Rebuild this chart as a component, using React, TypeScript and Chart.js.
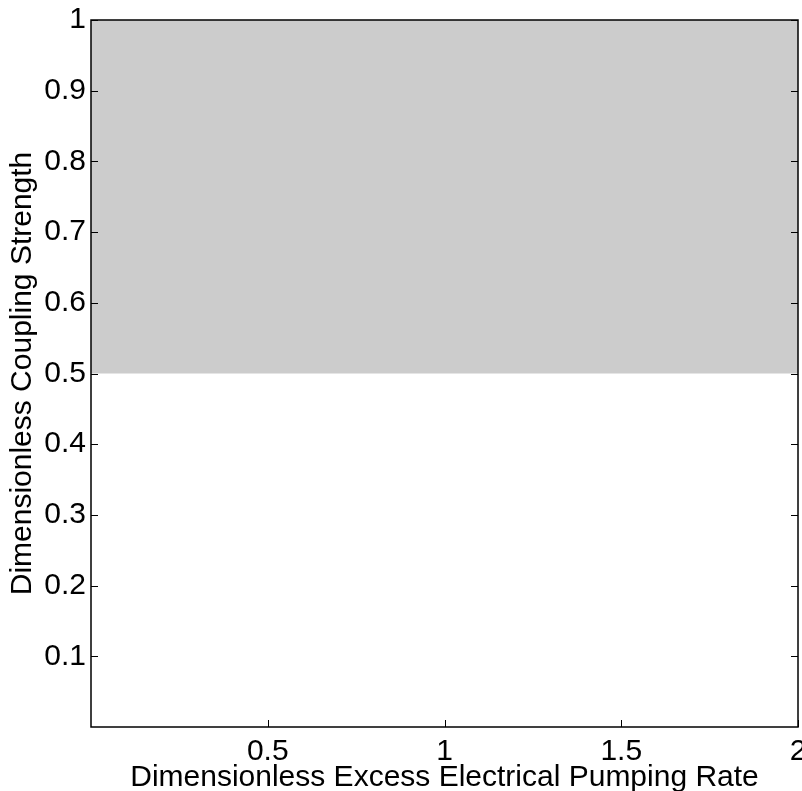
import React, { useEffect, useRef } from "react";
import { Chart, registerables } from "chart.js";

Chart.register(...registerables);

const xRange = [0, 2];
const yRange = [0, 1];
const xTickValues = [0.5, 1, 1.5, 2];
const yTickValues = [0.1, 0.2, 0.3, 0.4, 0.5, 0.6, 0.7, 0.8, 0.9, 1];
const regionX = [0, 2];
const regionLower = [0.5, 0.5];
const xTitle = "Dimensionless Excess Electrical Pumping Rate";
const yTitle = "Dimensionless Coupling Strength";

const FONT = "'Liberation Sans', Arial, Helvetica, sans-serif";
const FS = 30;

const framePlugin = {
  id: "frameTicks",
  afterDatasetsDraw(chart: any) {
    const { ctx, chartArea } = chart;
    const { left, right, top, bottom } = chartArea;
    const xs = chart.scales.x;
    const ys = chart.scales.y;
    const tl = 7;
    ctx.save();
    ctx.strokeStyle = "#000";
    ctx.lineWidth = 1;
    ctx.beginPath();
    for (const v of yTickValues) {
      const y = Math.round(ys.getPixelForValue(v)) + 0.5;
      ctx.moveTo(left, y);
      ctx.lineTo(left + tl, y);
      ctx.moveTo(right, y);
      ctx.lineTo(right - tl, y);
    }
    for (const v of xTickValues) {
      const x = Math.round(xs.getPixelForValue(v)) + 0.5;
      ctx.moveTo(x, bottom);
      ctx.lineTo(x, bottom - tl);
    }
    ctx.stroke();
    ctx.lineWidth = 1.5;
    ctx.strokeRect(left, top, right - left, bottom - top);
    ctx.restore();
  },
};

export default function App() {
  const ref = useRef<HTMLCanvasElement | null>(null);
  useEffect(() => {
    document.body.style.margin = "0";
    const canvas = ref.current!;
    const chart = new Chart(canvas, {
      type: "line",
      data: {
        datasets: [
          {
            data: regionX.map((x, i) => ({ x, y: regionLower[i] })),
            fill: "end",
            backgroundColor: "#cccccc",
            borderWidth: 0,
            borderColor: "rgba(0,0,0,0)",
            pointRadius: 0,
          },
        ],
      },
      options: {
        animation: false,
        responsive: false,
        devicePixelRatio: 1,
        layout: { padding: { left: 0, right: 4, top: 20, bottom: 0 } },
        plugins: { legend: { display: false }, tooltip: { enabled: false } },
        scales: {
          x: {
            type: "linear",
            min: xRange[0],
            max: xRange[1],
            afterBuildTicks: (s: any) => {
              s.ticks = xTickValues.map((v) => ({ value: v }));
            },
            afterFit: (s: any) => {
              s.height = 64;
              s.paddingLeft = 0;
              s.paddingRight = 0;
            },
            grid: { display: false, drawTicks: false },
            border: { display: false },
            ticks: {
              color: "#000",
              font: { family: FONT, size: FS },
              padding: 7,
              maxRotation: 0,
              autoSkip: false,
              callback: (v: any) => String(v),
            },
            title: {
              display: true,
              text: xTitle,
              color: "#000",
              font: { family: FONT, size: FS },
              padding: { top: 0, bottom: -5 },
            },
          },
          y: {
            type: "linear",
            min: yRange[0],
            max: yRange[1],
            afterBuildTicks: (s: any) => {
              s.ticks = yTickValues.map((v) => ({ value: v }));
            },
            afterFit: (s: any) => {
              s.width = 91;
              s.paddingTop = 0;
              s.paddingBottom = 0;
            },
            grid: { display: false, drawTicks: false },
            border: { display: false },
            ticks: {
              color: "#000",
              font: { family: FONT, size: FS },
              padding: 5,
              autoSkip: false,
              callback: (v: any) => String(v),
            },
            title: {
              display: true,
              text: yTitle,
              color: "#000",
              font: { family: FONT, size: FS },
              padding: { top: 5, bottom: 0 },
            },
          },
        },
      },
      plugins: [framePlugin],
    });
    return () => chart.destroy();
  }, []);
  return (
    <div style={{ position: "absolute", left: 0, top: 0, width: 802, height: 791, background: "#fff" }}>
      <canvas ref={ref} width={802} height={791} style={{ width: 802, height: 791, display: "block" }} />
    </div>
  );
}
